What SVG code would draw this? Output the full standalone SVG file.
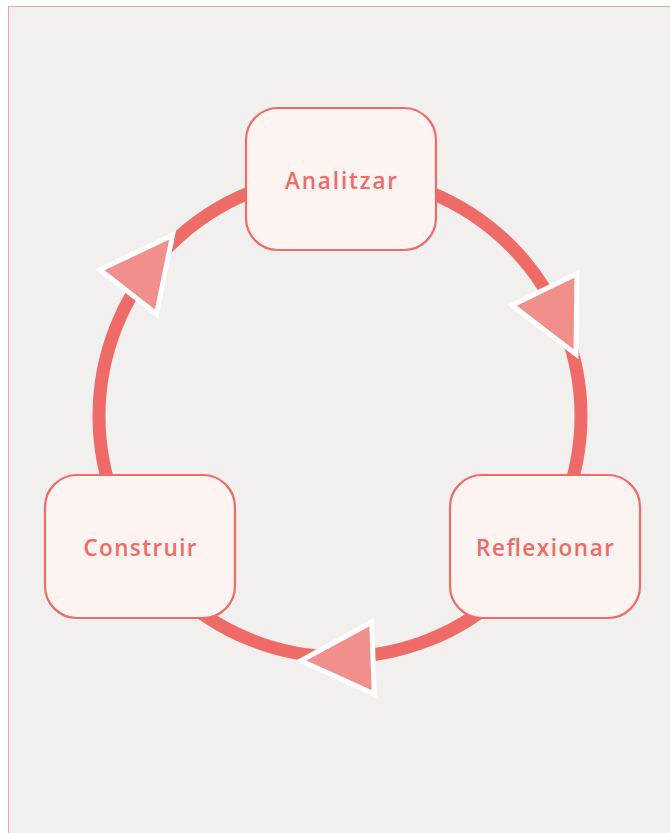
<svg xmlns="http://www.w3.org/2000/svg" width="670" height="833" viewBox="0 0 670 833">
  <defs>
    <style>
      .ring { fill: none; stroke: #EE6B67; stroke-width: 13; }
      .arrow { fill: #F08F8B; stroke: #FFFFFF; stroke-width: 5; stroke-linejoin: miter; }
      .box { fill: #FDF3F1; stroke: #EE6B67; stroke-width: 2.2; }
      .label { font-family: "Open Sans", "Liberation Sans", sans-serif; font-size: 22.5px; font-weight: 600; fill: #EE6B67; text-anchor: middle; }
    </style>
    <polygon id="tri" points="48,0 -24,-36 -24,36"/>
  </defs>
  <rect x="0" y="0" width="670" height="833" fill="#FFFFFF"/>
  <rect x="8.5" y="6.5" width="720" height="900" fill="#F1F0EE" stroke="#F2A3A3" stroke-width="1"/>
  <g id="connectors">
    <circle class="ring" cx="340" cy="416" r="241"/>
    <use href="#tri" class="arrow" transform="translate(555,311) rotate(64)"/>
    <use href="#tri" class="arrow" transform="translate(349,659) rotate(178)"/>
    <use href="#tri" class="arrow" transform="translate(143,273) rotate(-52)"/>
  </g>
  <g id="node-analitzar">
    <rect class="box" x="246" y="108" width="190" height="142" rx="32"/>
    <text class="label" x="341" y="189" textLength="112" lengthAdjust="spacing">Analitzar</text>
  </g>
  <g id="node-reflexionar">
    <rect class="box" x="450" y="475" width="190" height="143" rx="32"/>
    <text class="label" x="545" y="556" textLength="138" lengthAdjust="spacing">Reflexionar</text>
  </g>
  <g id="node-construir">
    <rect class="box" x="45" y="475" width="190" height="143" rx="32"/>
    <text class="label" x="140" y="556" textLength="113" lengthAdjust="spacing">Construir</text>
  </g>
</svg>
